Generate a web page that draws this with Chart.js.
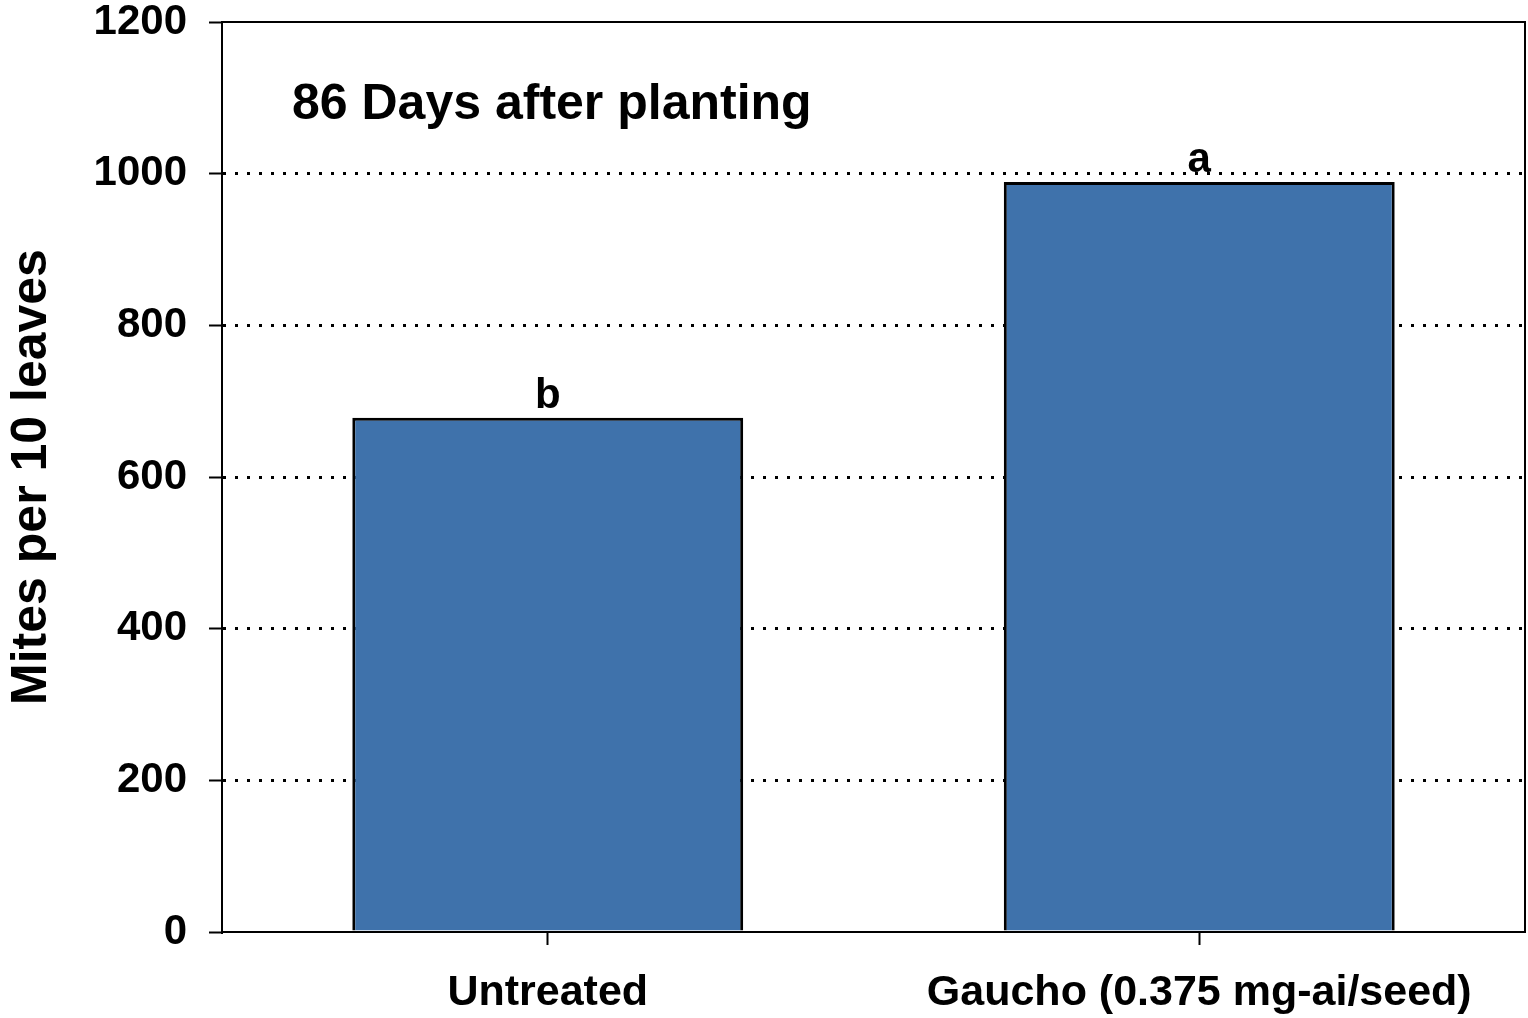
<!DOCTYPE html>
<html>
<head>
<meta charset="utf-8">
<script src="https://cdn.jsdelivr.net/npm/chart.js@4.4.1/dist/chart.umd.min.js"></script>
<style>
  html, body { margin: 0; padding: 0; background: #fff; }
  #wrap { width: 1528px; height: 1018px; }
</style>
</head>
<body>
<div id="wrap"><canvas id="mites" width="1528" height="1018"></canvas></div>
<script>
// --- data ---
const categories = ["Untreated", "Gaucho (0.375 mg-ai/seed)"];
const mitesPer10Leaves = [678, 989];
const sigLetters = ["b", "a"];
const yTicks = [0, 200, 400, 600, 800, 1000, 1200];
const panelLabel = "86 Days after planting";

const FONT = "'Liberation Sans', Arial, sans-serif";

// frame + texts on top of the plot
const extras = {
  id: "extras",
  afterDatasetsDraw(chart) {
    const { ctx, chartArea } = chart;
    ctx.save();
    // box round the plot area
    ctx.strokeStyle = "#000";
    ctx.lineWidth = 2;
    ctx.beginPath();
    ctx.moveTo(chartArea.left, chartArea.top);
    ctx.lineTo(chartArea.right, chartArea.top);
    ctx.lineTo(chartArea.right, chartArea.bottom);
    ctx.stroke();

    // significance letters above bars
    ctx.fillStyle = "#000";
    ctx.font = "bold 42px " + FONT;
    ctx.textAlign = "center";
    ctx.textBaseline = "alphabetic";
    const meta = chart.getDatasetMeta(0);
    meta.data.forEach((bar, i) => {
      ctx.fillText(sigLetters[i], bar.x, bar.y - 10);
    });

    // panel label
    ctx.font = "bold 50px " + FONT;
    ctx.textAlign = "left";
    ctx.textBaseline = "alphabetic";
    ctx.fillText(panelLabel, chartArea.left + 70, chartArea.top + 97);
    ctx.restore();
  },
};

new Chart(document.getElementById("mites"), {
  type: "bar",
  data: {
    labels: categories,
    datasets: [
      {
        data: mitesPer10Leaves,
        backgroundColor: "#3F72AB",
        borderColor: "#000",
        borderWidth: 3,
        categoryPercentage: 1,
        barPercentage: 0.6,
      },
    ],
  },
  options: {
    responsive: false,
    animation: false,
    layout: { padding: { top: 22, right: 3, left: 0, bottom: 0 } },
    plugins: {
      legend: { display: false },
      tooltip: { enabled: false },
    },
    scales: {
      x: {
        grid: {
          offset: false,
          drawOnChartArea: false,
          drawTicks: true,
          tickLength: 13,
          tickColor: "#000",
          tickWidth: 2,
        },
        border: { color: "#000", width: 2 },
        ticks: {
          color: "#000",
          padding: 22,
          font: { family: FONT, size: 43, weight: "bold" },
          maxRotation: 0,
        },
        afterFit(scale) {
          scale.height = 86;
          scale.paddingLeft = 0;
          scale.paddingRight = 0;
        },
      },
      y: {
        min: 0,
        max: 1200,
        afterBuildTicks(scale) {
          scale.ticks = yTicks.map((v) => ({ value: v }));
        },
        grid: {
          color: (c) => (c.tick && (c.tick.value === 0 || c.tick.value === 1200) ? "rgba(0,0,0,0)" : "#000"),
          lineWidth: 3,
          tickLength: 13,
          tickColor: "#000",
          tickWidth: 2,
          tickBorderDash: [],
        },
        border: { color: "#000", width: 2, dash: [3, 9] },
        ticks: {
          color: "#000",
          padding: 22,
          font: { family: FONT, size: 42, weight: "bold" },
          callback: (v) => String(v),
        },
        title: {
          display: true,
          text: "Mites per 10 leaves",
          color: "#000",
          font: { family: FONT, size: 50, weight: "bold" },
          padding: { top: 2, bottom: 0 },
        },
        afterFit(scale) {
          scale.width = 222;
          scale.paddingTop = 0;
          scale.paddingBottom = 0;
        },
      },
    },
  },
  plugins: [extras],
});
</script>
</body>
</html>
